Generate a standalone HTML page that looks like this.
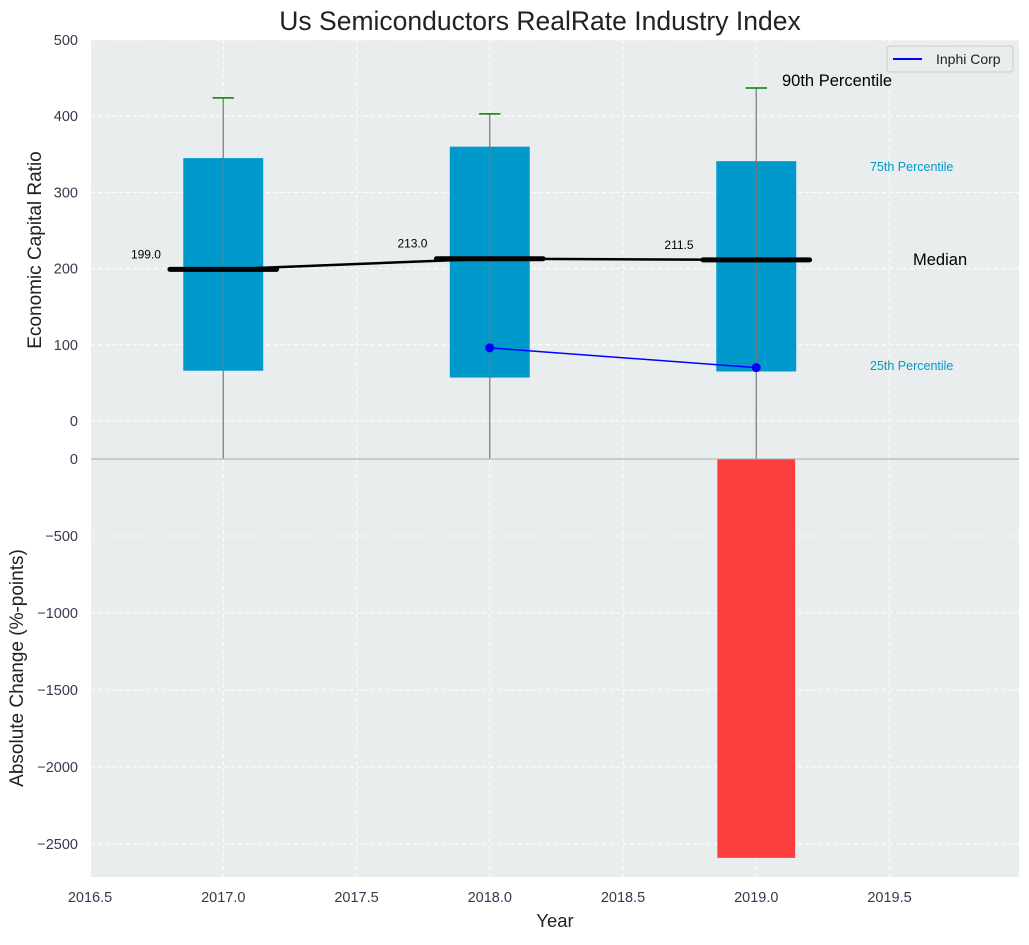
<!DOCTYPE html>
<html><head><meta charset="utf-8"><style>
body{margin:0;background:#fff;}
svg text{font-family:"Liberation Sans",Arial,sans-serif;}
</style></head><body>
<svg id="c" width="1029" height="940" xmlns="http://www.w3.org/2000/svg"></svg>
<script>
const years=[2017,2018,2019];
const q25=[66,57,65];
const q75=[345,360,341];
const p90=[424,403,437];
const medians=[199,213,211.5];
const medianLabels=["199.0","213.0","211.5"];
const inphiYears=[2018,2019];
const inphiVals=[96,70];
const changeYears=[2019];
const changeVals=[-2590];
const xTicks=[2016.5,2017,2017.5,2018,2018.5,2019,2019.5];
const topTicks=[0,100,200,300,400,500];
const botTicks=[0,-500,-1000,-1500,-2000,-2500];

const L=91,R=1019,T1=40,B1=459,T2=459,B2=877;
const X=v=>90+(v-2016.5)*266.5;
const Y1=v=>421-v*0.762;
const Y2=v=>459-v*0.154;
const svg=document.getElementById('c');
const NS='http://www.w3.org/2000/svg';
function add(tag,attrs,parent,txt){const e=document.createElementNS(NS,tag);for(const k in attrs)e.setAttribute(k,attrs[k]);if(txt!==undefined)e.textContent=txt;(parent||svg).appendChild(e);return e;}

let bg1=add('rect',{x:L,y:T1,width:R-L,height:B1-T1,fill:'#eaeded'});


let bg2=add('rect',{x:L,y:T2,width:R-L,height:B2-T2,fill:'#eaeded'});



xTicks.forEach(t=>{
  const g=add('line',{x1:X(t),x2:X(t),y1:T1,y2:B2,stroke:'#fff','stroke-dasharray':'4,3','stroke-width':1});
  
  
  const l=add('text',{x:X(t),y:902,'text-anchor':'middle','font-size':14.5,fill:'#333a4d'},null,t.toFixed(1));
  
  
});
topTicks.forEach(t=>{
  const g=add('line',{x1:L,x2:R,y1:Y1(t),y2:Y1(t),stroke:'#fff','stroke-dasharray':'4,3'});
  
  
  const l=add('text',{x:78,y:Y1(t)+5,'text-anchor':'end','font-size':14.5,fill:'#333a4d'},null,t);
  
  
});
botTicks.forEach(t=>{
  const g=add('line',{x1:L,x2:R,y1:Y2(t),y2:Y2(t),stroke:'#fff','stroke-dasharray':'4,3'});
  
  
  const l=add('text',{x:78,y:Y2(t)+5,'text-anchor':'end','font-size':14.5,fill:'#333a4d'},null,t===0?'0':'\u2212'+Math.abs(t));
  
  
});

years.forEach((yr,i)=>{
  const b=add('rect',{x:X(yr-0.15),y:Y1(q75[i]),width:X(yr+0.15)-X(yr-0.15),height:Y1(q25[i])-Y1(q75[i]),fill:'#0099cb'});
  
  
  const w=add('line',{x1:X(yr),x2:X(yr),y1:Y1(p90[i]),y2:B1,stroke:'#777','stroke-width':1.2});
  
  
  const c=add('line',{x1:X(yr-0.04),x2:X(yr+0.04),y1:Y1(p90[i]),y2:Y1(p90[i]),stroke:'#008000','stroke-width':1.5});
  
  
});
let pts=years.map((y,i)=>X(y)+','+Y1(medians[i])).join(' ');
let ml=add('polyline',{points:pts,fill:'none',stroke:'#000','stroke-width':2.5});


years.forEach((yr,i)=>{
  const m=add('line',{x1:X(yr-0.2),x2:X(yr+0.2),y1:Y1(medians[i]),y2:Y1(medians[i]),stroke:'#000','stroke-width':5,'stroke-linecap':'round'});
  
  
  const t=add('text',{x:X(yr-0.29),y:Y1(medians[i])-11,'text-anchor':'middle','font-size':12,fill:'#000'},null,medianLabels[i]);
  
  
});
let ip=add('polyline',{points:inphiYears.map((y,i)=>X(y)+','+Y1(inphiVals[i])).join(' '),fill:'none',stroke:'#0000ff','stroke-width':1.5});


inphiYears.forEach((y,i)=>{
  const d=add('circle',{cx:X(y),cy:Y1(inphiVals[i]),r:4.5,fill:'#0000ff'});
  
  
});
changeYears.forEach((y,i)=>{
  const v=changeVals[i];
  const r=add('rect',{x:X(y-0.146),y:Y2(Math.max(0,v)),width:X(y+0.146)-X(y-0.146),height:Math.abs(Y2(v)-Y2(0)),fill:'#ff2a2a','fill-opacity':0.9});
  
  
});
let dv=add('line',{x1:L,x2:R,y1:459,y2:459,stroke:'#aaa','stroke-width':1});



function ann(x,y,txt,size,col,name){const t=add('text',{x:x,y:y,'font-size':size,fill:col},null,txt);}
ann(782,86,'90th Percentile',16.5,'#000','p90-annotation');
ann(870,171,'75th Percentile',12.5,'#0099cb','p75-annotation');
ann(913,265,'Median',16.5,'#000','median-annotation');
ann(870,370,'25th Percentile',12.5,'#0099cb','p25-annotation');

let tt=add('text',{x:540,y:30,'text-anchor':'middle','font-size':26.5,fill:'#222'},null,'Us Semiconductors RealRate Industry Index');


let xt=add('text',{x:555,y:927,'text-anchor':'middle','font-size':18.5,fill:'#222'},null,'Year');


let yt1=add('text',{x:0,y:0,transform:'translate(41,250) rotate(-90)','text-anchor':'middle','font-size':19,fill:'#222'},null,'Economic Capital Ratio');


let yt2=add('text',{x:0,y:0,transform:'translate(23,668) rotate(-90)','text-anchor':'middle','font-size':19,fill:'#222'},null,'Absolute Change (%-points)');



let lg=add('g',{});


add('rect',{x:887,y:46,width:126,height:26,rx:3,fill:'#eaeded',stroke:'#ccc'},lg);
add('line',{x1:893,x2:922,y1:59,y2:59,stroke:'#0000ff','stroke-width':2},lg);
let le=add('text',{x:936,y:64,'font-size':14,fill:'#222'},lg,'Inphi Corp');


</script>
</body></html>
